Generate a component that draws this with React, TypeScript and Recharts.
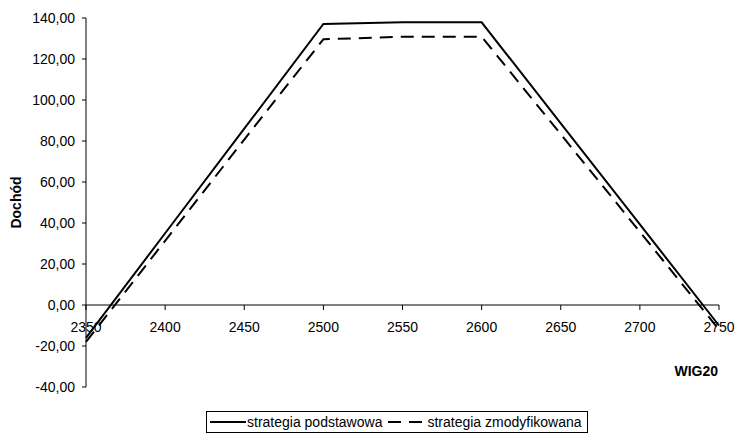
import React from 'react';
import { LineChart, Line, XAxis, YAxis, ReferenceLine, Legend } from 'recharts';

// WIG20 index levels and payoff of both strategies
const levels = [2350, 2400, 2450, 2500, 2550, 2600, 2650, 2700, 2750];
const basicStrategy = [-16, 35, 86, 137.1, 137.9, 137.9, 88.6, 39.3, -10];
const modifiedStrategy = [-18, 31.3, 80.7, 129.6, 130.9, 130.9, 83.3, 35.7, -12];
const incomeTicks = [-40, -20, 0, 20, 40, 60, 80, 100, 120, 140];

const data = levels.map((wig, i) => ({
  wig,
  basic: basicStrategy[i],
  modified: modifiedStrategy[i],
}));

const FONT = 'Arial, "Liberation Sans", sans-serif';
const WIDTH = 735;
const HEIGHT = 434;
const margin = { top: 18, right: 16, bottom: 17, left: 10 };
const Y_AXIS_W = 76;
const X_AXIS_H = 30;
const Y_MIN = -40;
const Y_MAX = 140;
const DASH = '13 8';

// the category axis sits on the zero line, not at the bottom of the plot
const plotHeight = HEIGHT - margin.top - margin.bottom - X_AXIS_H;
const zeroY = margin.top + (plotHeight * Y_MAX) / (Y_MAX - Y_MIN);

const formatIncome = (v: number) => v.toFixed(2).replace('.', ',');

const WigTick = (props: any) => {
  const { x, payload } = props;
  return (
    <g>
      <line x1={x} x2={x} y1={zeroY} y2={zeroY + 5} stroke="#000" />
      <text x={x} y={zeroY + 27} textAnchor="middle" fill="#000" fontSize={14} fontFamily={FONT}>
        {payload.value}
      </text>
    </g>
  );
};

const LegendBox = () => (
  <div
    style={{
      display: 'flex',
      alignItems: 'center',
      height: 20,
      border: '1px solid #000',
      padding: '0 5px 0 3px',
      fontFamily: FONT,
      fontSize: 14,
      color: '#000',
      whiteSpace: 'nowrap',
      background: '#fff',
    }}
  >
    <svg width={36} height={10}>
      <line x1={0} x2={36} y1={5} y2={5} stroke="#000" strokeWidth={2} />
    </svg>
    <span style={{ marginLeft: 1 }}>strategia podstawowa</span>
    <svg width={37} height={10} style={{ marginLeft: 6 }}>
      <line x1={0} x2={37} y1={5} y2={5} stroke="#000" strokeWidth={2} strokeDasharray={DASH} />
    </svg>
    <span style={{ marginLeft: 2 }}>strategia zmodyfikowana</span>
  </div>
);

export default function App() {
  return (
    <div style={{ position: 'absolute', left: 0, top: 0, background: '#fff' }}>
      <LineChart width={WIDTH} height={HEIGHT} data={data} margin={margin}>
        <XAxis
          dataKey="wig"
          type="number"
          domain={[2350, 2750]}
          ticks={levels}
          interval={0}
          height={X_AXIS_H}
          axisLine={false}
          tickLine={false}
          tick={<WigTick />}
          label={{
            value: 'WIG20',
            position: 'insideTopRight',
            offset: 1,
            dy: -22,
            style: { fontFamily: FONT, fontSize: 14, fontWeight: 'bold', fill: '#000' },
          }}
        />
        <YAxis
          width={Y_AXIS_W}
          domain={[Y_MIN, Y_MAX]}
          ticks={incomeTicks}
          interval={0}
          tickFormatter={formatIncome}
          tickSize={4}
          tickMargin={7}
          axisLine={{ stroke: '#000' }}
          tickLine={{ stroke: '#000' }}
          tick={{ fill: '#000', fontSize: 14, fontFamily: FONT }}
          label={{
            value: 'Dochód',
            angle: -90,
            position: 'insideLeft',
            offset: 6,
            style: { textAnchor: 'middle', fontFamily: FONT, fontSize: 14, fontWeight: 'bold', fill: '#000' },
          }}
        />
        <ReferenceLine y={0} stroke="#000" />
        <Line
          type="linear"
          dataKey="basic"
          stroke="#000"
          strokeWidth={2}
          dot={false}
          isAnimationActive={false}
        />
        <Line
          type="linear"
          dataKey="modified"
          stroke="#000"
          strokeWidth={2}
          strokeDasharray={DASH}
          dot={false}
          isAnimationActive={false}
        />
        <Legend
          layout="horizontal"
          verticalAlign="middle"
          align="center"
          content={<LegendBox />}
          wrapperStyle={{ left: 206, top: 411, bottom: 'auto', width: 'auto', height: 'auto' }}
        />
      </LineChart>
    </div>
  );
}
